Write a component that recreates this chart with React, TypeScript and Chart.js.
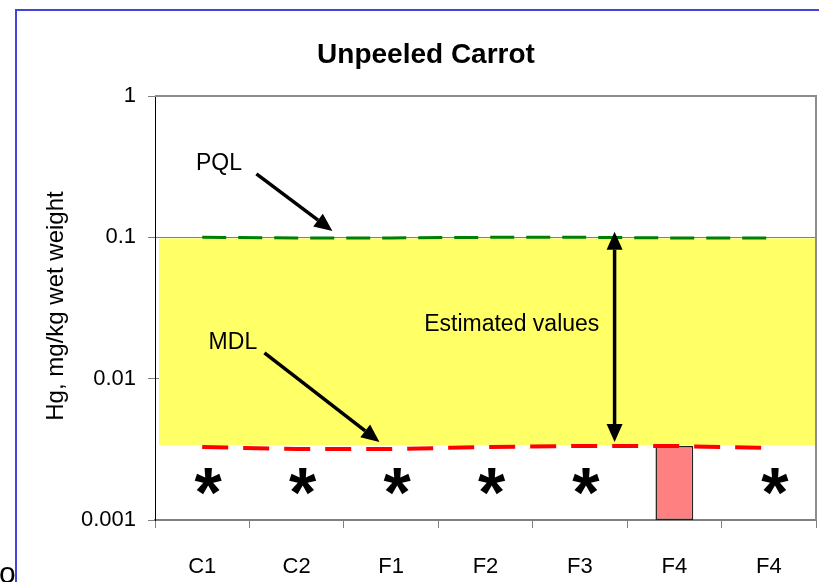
import React, { useEffect, useRef } from 'react';
import { Chart, registerables } from 'chart.js';

Chart.register(...registerables);

// ---------- data ----------
const CATEGORIES = ['C1', 'C2', 'F1', 'F2', 'F3', 'F4', 'F4'];
const MEASURED: (number | null)[] = [null, null, null, null, null, 0.00334, null];
const MDL_VALUES = [0.00328, 0.00318, 0.00318, 0.00328, 0.00334, 0.00334, 0.00323];
const PQL_VALUES = [0.1, 0.099, 0.099, 0.1, 0.1, 0.099, 0.099];
const NON_DETECT = [true, true, true, true, true, false, true];
const ASTERISK_LEVEL = 0.0018;
const BAND_TOP = 0.1;
const BAND_BOTTOM = 0.00339;
const Y_TICKS = [0.001, 0.01, 0.1, 1];
const TITLE = 'Unpeeled Carrot';
const Y_TITLE = 'Hg, mg/kg wet weight';

// annotation anchors in data space: x = category index, y = value
const PQL_LABEL = { text: 'PQL', x: 0.177, y: 0.333 };
const PQL_ARROW = { x1: 0.574, y1: 0.281, x2: 1.379, y2: 0.111 };
const MDL_LABEL = { text: 'MDL', x: 0.325, y: 0.018 };
const MDL_ARROW = { x1: 0.659, y1: 0.0152, x2: 1.877, y2: 0.00357 };
const EST_LABEL = { text: 'Estimated values', x: 3.278, y: 0.0243 };
const EST_ARROW = { x: 4.367, top: 0.1096, bottom: 0.00357 };

const FONT = 'Arial, "Liberation Sans", sans-serif';

function arrowHead(ctx: CanvasRenderingContext2D, x1: number, y1: number, x2: number, y2: number, len: number, w: number) {
  const a = Math.atan2(y2 - y1, x2 - x1);
  const bx = x2 - len * Math.cos(a);
  const by = y2 - len * Math.sin(a);
  const px = -Math.sin(a) * w / 2;
  const py = Math.cos(a) * w / 2;
  ctx.beginPath();
  ctx.moveTo(x2, y2);
  ctx.lineTo(bx + px, by + py);
  ctx.lineTo(bx - px, by - py);
  ctx.closePath();
  ctx.fill();
  return { bx, by };
}

function arrow(ctx: CanvasRenderingContext2D, x1: number, y1: number, x2: number, y2: number, both = false) {
  const len = 18, w = 16;
  ctx.save();
  ctx.strokeStyle = '#000';
  ctx.fillStyle = '#000';
  ctx.lineWidth = 3.5;
  const e = arrowHead(ctx, x1, y1, x2, y2, len, w);
  let sx = x1, sy = y1;
  if (both) {
    const s = arrowHead(ctx, x2, y2, x1, y1, len, w);
    sx = s.bx; sy = s.by;
  }
  ctx.beginPath();
  ctx.moveTo(sx, sy);
  ctx.lineTo(e.bx, e.by);
  ctx.stroke();
  ctx.restore();
}

const bandPlugin = {
  id: 'band',
  beforeDatasetsDraw(chart: any) {
    const { ctx, chartArea } = chart;
    const y = chart.scales.y;
    const top = y.getPixelForValue(BAND_TOP);
    const bot = y.getPixelForValue(BAND_BOTTOM);
    ctx.save();
    ctx.fillStyle = '#FFFF66';
    ctx.fillRect(chartArea.left + 4, top + 1, chartArea.right - chartArea.left - 4, bot - top - 1);
    ctx.restore();
  },
};

const decorPlugin = {
  id: 'decor',
  afterDatasetsDraw(chart: any) {
    const { ctx, chartArea } = chart;
    const xs = chart.scales.x;
    const ys = chart.scales.y;
    const px = (i: number) => xs.getPixelForValue(0) + i * (xs.getPixelForValue(1) - xs.getPixelForValue(0));
    const py = (v: number) => ys.getPixelForValue(v);

    // asterisks for non-detects
    ctx.save();
    ctx.fillStyle = '#000';
    ctx.font = 'bold 70px ' + FONT;
    ctx.textAlign = 'center';
    ctx.textBaseline = 'alphabetic';
    NON_DETECT.forEach((nd, i) => {
      if (nd) ctx.fillText('*', px(i) + 6, py(ASTERISK_LEVEL) + 33);
    });
    ctx.restore();

    // labels
    ctx.save();
    ctx.fillStyle = '#000';
    ctx.font = '23px ' + FONT;
    ctx.textAlign = 'center';
    ctx.textBaseline = 'middle';
    [PQL_LABEL, MDL_LABEL, EST_LABEL].forEach((l) => ctx.fillText(l.text, px(l.x), py(l.y)));
    ctx.restore();

    arrow(ctx, px(PQL_ARROW.x1), py(PQL_ARROW.y1), px(PQL_ARROW.x2), py(PQL_ARROW.y2));
    arrow(ctx, px(MDL_ARROW.x1), py(MDL_ARROW.y1), px(MDL_ARROW.x2), py(MDL_ARROW.y2));
    arrow(ctx, px(EST_ARROW.x), py(EST_ARROW.top), px(EST_ARROW.x), py(EST_ARROW.bottom), true);

    // plot area frame (top + right)
    ctx.save();
    ctx.strokeStyle = '#8C8C8C';
    ctx.lineWidth = 2;
    ctx.beginPath();
    ctx.moveTo(chartArea.left, chartArea.top);
    ctx.lineTo(chartArea.right, chartArea.top);
    ctx.lineTo(chartArea.right, chartArea.bottom);
    ctx.stroke();
    ctx.restore();
  },
  afterDraw(chart: any) {
    const { ctx } = chart;
    ctx.save();
    // title
    ctx.fillStyle = '#000';
    ctx.font = 'bold 28px ' + FONT;
    ctx.textAlign = 'center';
    ctx.textBaseline = 'alphabetic';
    ctx.fillText(TITLE, 426, 63);
    // y title
    ctx.save();
    ctx.translate(56, 306);
    ctx.rotate(-Math.PI / 2);
    ctx.font = '24px ' + FONT;
    ctx.textBaseline = 'middle';
    ctx.fillText(Y_TITLE, 0, 0);
    ctx.restore();
    // outer blue frame
    ctx.strokeStyle = '#4444DD';
    ctx.lineWidth = 2;
    ctx.beginPath();
    ctx.moveTo(16, 582);
    ctx.lineTo(16, 10);
    ctx.lineTo(819, 10);
    ctx.stroke();
    // stray character at the bottom-left edge
    ctx.font = '30px ' + FONT;
    ctx.textAlign = 'left';
    ctx.fillText('o', -1, 583);
    ctx.restore();
  },
};

export default function App() {
  const ref = useRef<HTMLCanvasElement | null>(null);

  useEffect(() => {
    if (!ref.current) return;
    const chart = new Chart(ref.current, {
      type: 'bar',
      data: {
        labels: CATEGORIES,
        datasets: [
          {
            type: 'line',
            label: 'PQL',
            data: PQL_VALUES,
            borderColor: '#008000',
            borderWidth: 3,
            borderDash: [24, 12],
            pointRadius: 0,
            fill: false,
            tension: 0,
            order: 1,
          } as any,
          {
            type: 'line',
            label: 'MDL',
            data: MDL_VALUES,
            borderColor: '#FF0000',
            borderWidth: 4,
            borderDash: [26, 15],
            pointRadius: 0,
            fill: false,
            tension: 0,
            order: 2,
          } as any,
          {
            type: 'bar',
            label: 'Measured',
            data: MEASURED,
            backgroundColor: '#FF8080',
            borderColor: '#222222',
            borderWidth: 1.5,
            borderSkipped: false,
            barPercentage: 0.4,
            categoryPercentage: 1,
            order: 3,
          } as any,
        ],
      },
      options: {
        responsive: false,
        animation: false,
        events: [],
        layout: { padding: { top: 96, right: 3, left: 0, bottom: 0 } },
        plugins: {
          legend: { display: false },
          tooltip: { enabled: false },
          title: { display: false },
        },
        scales: {
          x: {
            type: 'category',
            offset: true,
            grid: { offset: true, drawOnChartArea: false, drawTicks: true, tickLength: 8, color: '#808080' },
            border: { color: '#808080', width: 2 },
            ticks: { font: { family: FONT, size: 22 }, color: '#000', padding: 26, maxRotation: 0, autoSkip: false },
            afterFit: (s: any) => { s.height = 62; },
          },
          y: {
            type: 'logarithmic',
            min: 0.001,
            max: 1,
            afterBuildTicks: (s: any) => { s.ticks = Y_TICKS.map((v) => ({ value: v })); },
            ticks: {
              font: { family: FONT, size: 22 },
              color: '#000',
              padding: 12,
              callback: (v: any) => String(v),
            },
            grid: { color: '#808080', tickLength: 7, drawOnChartArea: true },
            border: { color: '#000', width: 1 },
            afterFit: (s: any) => { s.width = 155; },
          },
        },
      } as any,
      plugins: [bandPlugin, decorPlugin],
    });
    return () => chart.destroy();
  }, []);

  return (
    <div style={{ position: 'absolute', left: 0, top: 0, width: 819, height: 582, background: '#fff' }}>
      <canvas ref={ref} width={819} height={582} style={{ width: 819, height: 582, display: 'block' }} />
    </div>
  );
}
